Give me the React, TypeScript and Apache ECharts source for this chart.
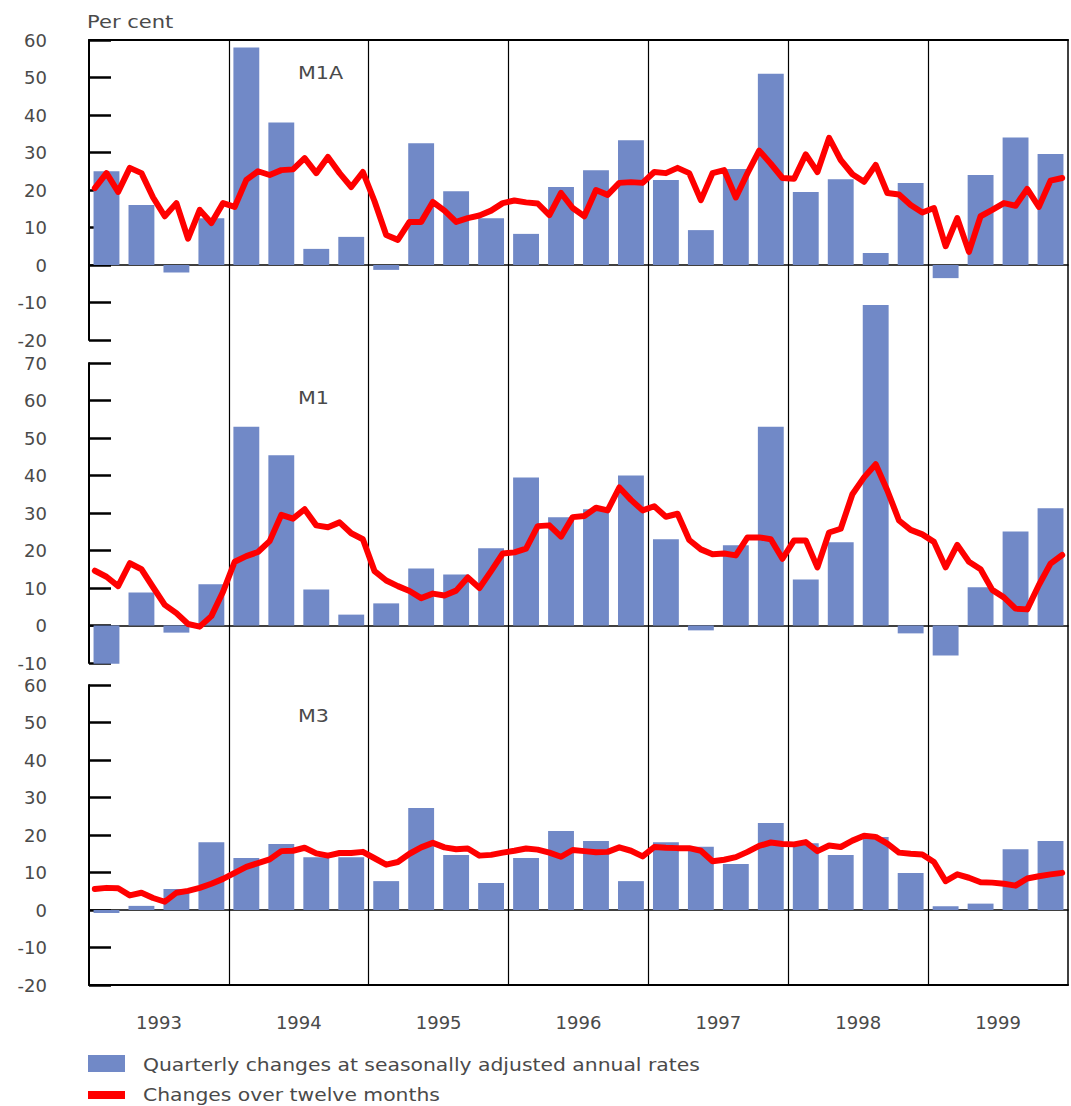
import React, { useEffect, useRef } from "react";
import * as echarts from "echarts";

const YEARS = ["1993", "1994", "1995", "1996", "1997", "1998", "1999"];
const QUARTERS = YEARS.flatMap((y) => ["Q1", "Q2", "Q3", "Q4"].map((q) => `${y} ${q}`));
const MONTHS = YEARS.flatMap((y) =>
  ["01", "02", "03", "04", "05", "06", "07", "08", "09", "10", "11", "12"].map((m) => `${y}-${m}`)
);

const PANEL_NAMES = ["M1A", "M1", "M3"];
const Y_MIN = [-20, -10, -20];
const Y_MAX = [60, 70, 60];

// Quarterly changes at seasonally adjusted annual rates
const M1A_QUARTERLY = [
  25, 16, -2, 12.5, 58, 38, 4.3, 7.5, -1.3, 32.5, 19.7, 12.5, 8.3, 20.8,
  25.3, 33.3, 22.7, 9.3, 25.6, 51, 19.5, 22.9, 3.2, 21.9, -3.5, 24, 34, 29.6,
];
const M1_QUARTERLY = [
  -10.2, 8.8, -1.9, 11, 53, 45.4, 9.6, 2.9, 5.9, 15.2, 13.6, 20.6, 39.5, 28.9,
  31, 40, 23, -1.3, 21.4, 53, 12.3, 22.2, 85.5, -2.1, -8, 10.2, 25.1, 31.3,
];
const M3_QUARTERLY = [
  -0.8, 1.1, 5.6, 18.1, 13.9, 17.6, 14.1, 14.1, 7.7, 27.2, 14.7, 7.2, 13.9, 21.1,
  18.4, 7.7, 18.1, 16.9, 12.3, 23.2, 17.8, 14.7, 19.5, 9.9, 1, 1.7, 16.2, 18.4,
];

// Changes over twelve months (monthly)
const M1A_TWELVE = [
  20.5, 24.5, 19.5, 25.9, 24.5, 18, 13, 16.5, 7, 14.7, 11.2, 16.5,
  15.5, 22.7, 25, 24, 25.3, 25.5, 28.5, 24.5, 28.8, 24.5, 20.8, 24.8,
  17, 8, 6.7, 11.5, 11.5, 16.8, 14.5, 11.5, 12.5, 13.2, 14.5, 16.5,
  17.2, 16.7, 16.4, 13.3, 19.2, 15.2, 13, 20, 18.7, 21.9, 22.1, 21.9,
  24.8, 24.5, 25.9, 24.5, 17.3, 24.5, 25.3, 18, 24.5, 30.5, 27, 23.2,
  23, 29.5, 24.8, 33.9, 28, 24.2, 22.2, 26.7, 19.2, 18.8, 16, 14,
  15.2, 5, 12.5, 3.5, 13, 14.7, 16.5, 15.8, 20.3, 15.5, 22.5, 23.2,
];
const M1_TWELVE = [
  14.6, 13, 10.5, 16.6, 15, 10.2, 5.5, 3.3, 0.4, -0.3, 2.5, 9,
  17, 18.5, 19.6, 22.5, 29.5, 28.5, 31, 26.7, 26.2, 27.5, 24.6, 23,
  14.5, 12, 10.5, 9.2, 7.3, 8.5, 8, 9.3, 12.8, 10, 14.5, 19.2,
  19.5, 20.5, 26.5, 26.7, 23.7, 28.9, 29.2, 31.4, 30.7, 36.8, 33.5, 30.7,
  31.8, 29, 29.8, 22.8, 20.3, 19, 19.2, 18.7, 23.5, 23.5, 23, 17.8,
  22.7, 22.7, 15.5, 24.8, 25.8, 35, 39.5, 43, 36, 28, 25.5, 24.3,
  22.3, 15.5, 21.5, 17, 15, 9.5, 7.5, 4.5, 4.3, 10.8, 16.5, 18.8,
];
const M3_TWELVE = [
  5.6, 5.9, 5.8, 3.9, 4.6, 3.2, 2.2, 4.6, 5.1, 5.9, 7, 8.3,
  9.9, 11.5, 12.5, 13.5, 15.7, 15.8, 16.6, 15.1, 14.5, 15.2, 15.2, 15.5,
  13.8, 12.1, 12.8, 15, 16.7, 17.9, 16.7, 16.2, 16.4, 14.5, 14.7, 15.3,
  15.8, 16.4, 16.1, 15.3, 14.2, 16, 15.7, 15.4, 15.5, 16.7, 15.8, 14.3,
  16.8, 16.6, 16.5, 16.5, 15.8, 13, 13.4, 14.1, 15.5, 17.1, 18, 17.6,
  17.5, 18.1, 15.7, 17.2, 16.8, 18.5, 19.8, 19.5, 17.7, 15.3, 15, 14.8,
  12.8, 7.7, 9.5, 8.6, 7.4, 7.3, 7, 6.5, 8.4, 9, 9.5, 9.9,
];

const QUARTERLY = [M1A_QUARTERLY, M1_QUARTERLY, M3_QUARTERLY];
const TWELVE = [M1A_TWELVE, M1_TWELVE, M3_TWELVE];

const LEGEND_BAR = "Quarterly changes at seasonally adjusted annual rates";
const LEGEND_LINE = "Changes over twelve months";
const UNIT = "Per cent";

const BAR_COLOR = "#7189c7";
const LINE_COLOR = "#ff0000";
const TEXT_COLOR = "#4a4a4a";
const FONT = "DejaVu Sans";

const W = 1071;
const H = 1106;
const LEFT = 89;
const RIGHT = 3;
const PANEL_TOPS = [40, 363, 685];
const PANEL_H = 300;

export default function App() {
  const ref = useRef<HTMLDivElement>(null);

  useEffect(() => {
    if (!ref.current) return;
    const chart = echarts.init(ref.current, undefined, { renderer: "svg" });

    const grids: any[] = [
      { left: LEFT, right: RIGHT, top: PANEL_TOPS[0], bottom: H - (PANEL_TOPS[2] + PANEL_H) },
      ...PANEL_TOPS.map((t) => ({ left: LEFT, right: RIGHT, top: t, height: PANEL_H })),
    ];

    const xAxes: any[] = [
      {
        type: "category",
        gridIndex: 0,
        data: YEARS,
        position: "bottom",
        boundaryGap: true,
        axisLine: { show: true, lineStyle: { color: "#000", width: 2 } },
        axisTick: { show: false },
        axisLabel: { color: TEXT_COLOR, fontSize: 18, fontFamily: FONT, margin: 28 },
        splitLine: { show: true, showMinLine: false, showMaxLine: false, lineStyle: { color: "#000", width: 1.2 } },
      },
      {
        type: "category",
        gridIndex: 0,
        data: YEARS,
        position: "top",
        axisLine: { show: true, lineStyle: { color: "#000", width: 2 } },
        axisTick: { show: false },
        axisLabel: { show: false },
        splitLine: { show: false },
      },
    ];
    const yAxes: any[] = [
      {
        type: "value",
        gridIndex: 0,
        min: 0,
        max: 1,
        position: "right",
        axisLine: { show: true, lineStyle: { color: "#000", width: 1.5 } },
        axisTick: { show: false },
        axisLabel: { show: false },
        splitLine: { show: false },
      },
    ];
    const series: any[] = [];

    PANEL_NAMES.forEach((name, p) => {
      xAxes.push({
        type: "category",
        gridIndex: p + 1,
        data: QUARTERS,
        position: "bottom",
        boundaryGap: true,
        axisLine: { show: true, onZero: true, lineStyle: { color: "#000", width: 1.5 } },
        axisTick: { show: false },
        axisLabel: { show: false },
        splitLine: { show: false },
      });
      xAxes.push({
        type: "category",
        gridIndex: p + 1,
        data: MONTHS,
        boundaryGap: true,
        show: false,
      });
      yAxes.push({
        type: "value",
        gridIndex: p + 1,
        min: Y_MIN[p],
        max: Y_MAX[p],
        interval: 10,
        position: "left",
        axisLine: { show: true, lineStyle: { color: "#000", width: 2 } },
        axisTick: { show: true, inside: true, length: 22, lineStyle: { color: "#000", width: 2.5 } },
        axisLabel: {
          color: TEXT_COLOR,
          fontSize: 18,
          fontFamily: FONT,
          margin: 42,
          padding: [6, 0, 0, 0],
        },
        splitLine: { show: false },
      });
      series.push({
        name: `${name} quarterly`,
        type: "bar",
        xAxisIndex: 2 + 2 * p,
        yAxisIndex: 1 + p,
        data: QUARTERLY[p],
        barCategoryGap: "26%",
        clip: false,
        itemStyle: { color: BAR_COLOR },
        z: 2,
      });
      series.push({
        name: `${name} twelve months`,
        type: "line",
        xAxisIndex: 3 + 2 * p,
        yAxisIndex: 1 + p,
        data: TWELVE[p],
        symbol: "none",
        lineStyle: { color: LINE_COLOR, width: 6, join: "round", cap: "round" },
        z: 4,
      });
    });

    const textStyle = (text: string) => ({
      text,
      fill: TEXT_COLOR,
      font: `18px "${FONT}"`,
      verticalAlign: "middle",
      align: "left",
    });

    const graphic: any[] = [
      { type: "text", x: 87, y: 22, scaleX: 1.17, style: textStyle(UNIT) },
      { type: "text", x: 298, y: 73, scaleX: 1.15, style: textStyle(PANEL_NAMES[0]) },
      { type: "text", x: 298, y: 398, scaleX: 1.15, style: textStyle(PANEL_NAMES[1]) },
      { type: "text", x: 298, y: 716, scaleX: 1.15, style: textStyle(PANEL_NAMES[2]) },
      { type: "rect", shape: { x: 88, y: 1055, width: 37, height: 17 }, style: { fill: BAR_COLOR } },
      { type: "text", x: 143, y: 1065, scaleX: 1.13, style: textStyle(LEGEND_BAR) },
      { type: "rect", shape: { x: 88, y: 1091, width: 37, height: 8 }, style: { fill: LINE_COLOR } },
      { type: "text", x: 143, y: 1095, scaleX: 1.13, style: textStyle(LEGEND_LINE) },
    ];

    chart.setOption({
      animation: false,
      backgroundColor: "#ffffff",
      textStyle: { fontFamily: FONT },
      grid: grids,
      xAxis: xAxes,
      yAxis: yAxes,
      series,
      graphic,
    });

    return () => chart.dispose();
  }, []);

  return (
    <div
      ref={ref}
      style={{ position: "absolute", left: 0, top: 0, width: W, height: H }}
    />
  );
}
